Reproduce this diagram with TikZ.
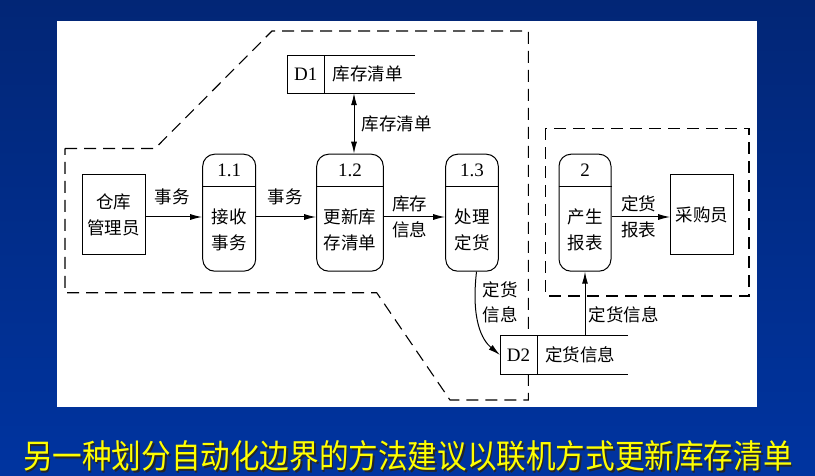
\documentclass[tikz,border=0pt]{standalone}
\usepackage{fontspec}
\setmainfont{Liberation Serif}
\newfontfamily\cjk{Noto Sans CJK SC}
\usetikzlibrary{arrows.meta,calc}
\definecolor{bgtop}{RGB}{2,38,118}
\definecolor{bgbot}{RGB}{0,52,160}
\definecolor{titley}{RGB}{255,255,0}
\begin{document}
\begin{tikzpicture}[x=1pt,y=-1pt,
  line width=1pt,
  zh/.style={font=\cjk\fontsize{17.5}{26.5}\selectfont, align=center, inner sep=0pt},
  num/.style={font=\fontsize{19}{20}\selectfont, inner sep=0pt},
  proc/.style={draw, rounded corners=12pt, minimum height=117pt, inner sep=0pt},
  ext/.style={draw, zh, minimum height=80pt},
  flow/.style={-{Latex[length=12pt,width=6pt]}, line width=1pt},
  bound/.style={dash pattern=on 12pt off 7pt, line width=1.1pt},
  store/.style={fill=white, minimum width=127pt, minimum height=37pt, inner sep=0pt},
]
% background
\shade[top color=bgtop, bottom color=bgbot] (0,0) rectangle (815,476);
\useasboundingbox (0,0) rectangle (815,476);
\fill[white] (57,21) rectangle (757,407);

% dashed boundaries
\draw[bound] (65,148.5) -- (155,148.5) -- (272,31) -- (528.3,31) -- (528.3,400)
  -- (450,400) -- (376.7,292.7) -- (65,292.7) -- cycle;
\draw[bound] (545.7,128.3) rectangle (749,296);

% external entities
\node[ext, minimum width=63pt] (mgr) at (113.5,215) {仓库\\管理员};
\node[ext, minimum width=62.6pt] (buyer) at (702,215) {采购员};

% processes
\node[proc, minimum width=53pt] (p11) at (229.2,212.7) {};
\node[proc, minimum width=66.6pt] (p12) at (350,212.7) {};
\node[proc, minimum width=52.6pt] (p13) at (472,212.7) {};
\node[proc, minimum width=52pt] (p2) at (585,212.7) {};
\foreach \p/\n/\t in {p11/1.1/接收\\事务, p12/1.2/更新库\\存清单, p13/1.3/处理\\定货, p2/2/产生\\报表}{
  \draw ([yshift=-33pt]\p.north west) -- ([yshift=-33pt]\p.north east);
  \node[num] at ([yshift=-16.5pt]\p.north) {\n};
  \node[zh] at ([yshift=-17pt]\p.center) {\t};
}

% data stores
\node[store] (D1) at (351,74.2) {};
\draw (D1.north east) -- (D1.north west) -- (D1.south west) -- (D1.south east);
\draw ([xshift=37.6pt]D1.north west) -- ([xshift=37.6pt]D1.south west);
\node[num] at ([xshift=18.8pt]D1.west) {D1};
\node[zh] at ([xshift=16.7pt]D1.center) {库存清单};

\node[store, minimum height=38pt] (D2) at (564,355) {};
\draw (D2.north east) -- (D2.north west) -- (D2.south west) -- (D2.south east);
\draw ([xshift=37pt]D2.north west) -- ([xshift=37pt]D2.south west);
\node[num] at ([xshift=18.5pt]D2.west) {D2};
\node[zh] at ([xshift=16pt]D2.center) {定货信息};

% flows
\coordinate (ay) at (0,217);
\draw[flow] (mgr.east |- ay) -- (p11.west |- ay);
\draw[flow] (p11.east |- ay) -- (p12.west |- ay);
\draw[flow] (p12.east |- ay) -- (p13.west |- ay);
\draw[flow] (p2.east |- ay) -- (buyer.west |- ay);
\draw[{Latex[length=12pt,width=6pt]}-{Latex[length=12pt,width=6pt]}]
  ([xshift=3pt]D1.south) -- ([xshift=3pt]D1.south |- p12.north);
\draw[flow] ([xshift=4.5pt]p13.south) .. controls (471,320) and (482,340) .. (D2.west);
\draw[flow] (D2.north -| p2.south) -- (p2.south);

% flow labels
\node[zh] at (172,197) {事务};
\node[zh] at (285,197) {事务};
\node[zh] at (409.5,217) {库存\\信息};
\node[zh] at (638.5,217) {定货\\报表};
\node[zh] at (396.7,124) {库存清单};
\node[zh, font=\cjk\fontsize{17.5}{25}\selectfont] at (500,302.5) {定货\\信息};
\node[zh] at (623.5,315) {定货信息};

% title
\node[font=\cjk\fontsize{29.6}{31}\selectfont, text=black!85, yscale=1.12] at (409.5,457.5)
  {另一种划分自动化边界的方法建议以联机方式更新库存清单};
\node[font=\cjk\fontsize{29.6}{31}\selectfont, text=titley, yscale=1.12] at (408,456)
  {另一种划分自动化边界的方法建议以联机方式更新库存清单};
\end{tikzpicture}
\end{document}
